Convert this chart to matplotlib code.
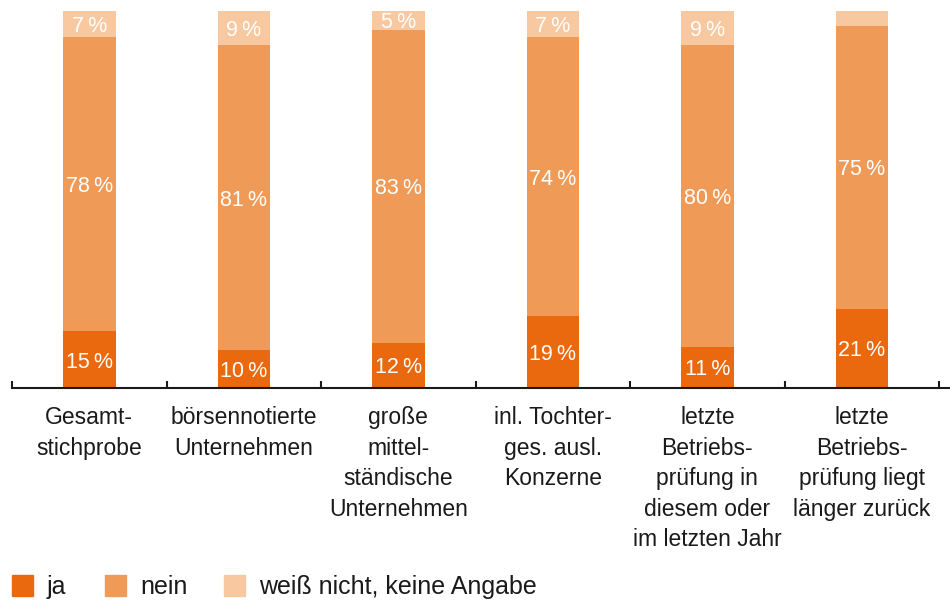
import numpy as np
import matplotlib.pyplot as plt
from matplotlib.patches import Rectangle

plt.rcParams['font.family'] = ['Liberation Sans', 'DejaVu Sans']

# Anteile je Gruppe in Prozent
categories = ["Gesamt-\nstichprobe", "börsennotierte\nUnternehmen",
              "große\nmittel-\nständische\nUnternehmen",
              "inl. Tochter-\nges. ausl.\nKonzerne",
              "letzte\nBetriebs-\nprüfung in\ndiesem oder\nim letzten Jahr",
              "letzte\nBetriebs-\nprüfung liegt\nlänger zurück"]
ja = [15, 10, 12, 19, 11, 21]
nein = [78, 81, 83, 74, 80, 75]
weiss_nicht = [7, 9, 5, 7, 9, 4]
show_weiss = [True, True, True, True, True, False]
legend_labels = ["ja", "nein", "weiß nicht, keine Angabe"]

col_ja = "#EA690E"
col_nein = "#F09A57"
col_wn = "#F8C8A0"
txt = "#1a1a1a"

W, H = 950, 602
fig = plt.figure(figsize=(W / 100, H / 100), dpi=100)
ax = fig.add_axes([12/W, 1 - 388/H, 938/W, 377/H])

x = np.arange(len(categories))
w = 0.34
ax.bar(x, ja, w, color=col_ja)
ax.bar(x, nein, w, bottom=ja, color=col_nein)
bottom2 = np.array(ja) + np.array(nein)
ax.bar(x, weiss_nicht, w, bottom=bottom2, color=col_wn)

fs_val = 15.5
for i in range(len(x)):
    ax.text(x[i], ja[i] / 2, f"{ja[i]}\u2009%", ha="center", va="center_baseline",
            color="white", fontsize=fs_val)
    ax.text(x[i], ja[i] + nein[i] / 2, f"{nein[i]}\u2009%", ha="center", va="center_baseline",
            color="white", fontsize=fs_val)
    if show_weiss[i]:
        ax.text(x[i], bottom2[i] + weiss_nicht[i] / 2, f"{weiss_nicht[i]}\u2009%", ha="center",
                va="center_baseline", color="white", fontsize=fs_val)

ax.set_xlim(-0.5, 5.57)
ax.set_ylim(0, 100)
for s in ["top", "right", "left"]:
    ax.spines[s].set_visible(False)
ax.spines["bottom"].set_linewidth(1.5)
ax.spines["bottom"].set_color(txt)
ax.set_yticks([])

ax.set_xticks(x)
ax.set_xticklabels(categories, fontsize=16.5, color=txt, linespacing=1.42, va="top")
ax.tick_params(axis="x", which="major", length=0, pad=13)
ax.set_xticks(np.arange(-0.5, 6, 1), minor=True)
ax.tick_params(axis="x", which="minor", direction="in", length=5, width=1.5, color=txt)

# Legende unten links
leg_cols = [col_ja, col_nein, col_wn]
leg_x = [12, 105, 224]
for lx, c, lab in zip(leg_x, leg_cols, legend_labels):
    fig.patches.append(Rectangle((lx / W, 1 - 596 / H), 21 / W, 21 / H, transform=fig.transFigure,
                                 color=c, figure=fig))
    fig.text((lx + 35) / W, 1 - 594 / H, lab, ha="left", va="baseline", fontsize=18, color=txt)

fig.savefig("out.png", dpi=100)
